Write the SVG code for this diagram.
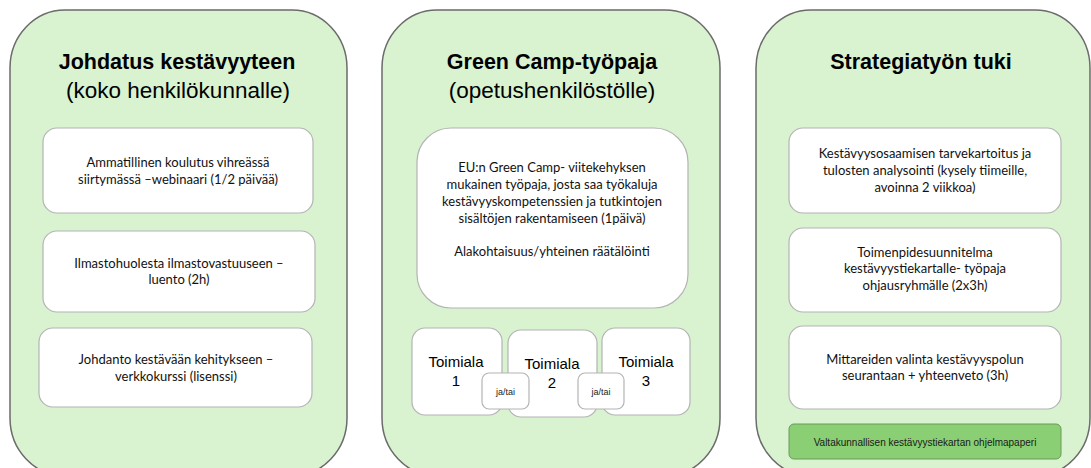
<svg xmlns="http://www.w3.org/2000/svg" width="1091" height="468" viewBox="0 0 1091 468">
<style>
.panel{fill:#d9f2d0;stroke:#6b6b6b;stroke-width:1.5}
.box{fill:#ffffff;stroke:#b4b4b4;stroke-width:1.2}
.bar{fill:#8acf73;stroke:#6a9a5a;stroke-width:1}
.t{font-family:Lato,"Liberation Sans",sans-serif;font-size:13px;fill:#111;text-anchor:middle}
.h{font-family:"Liberation Sans",Arial,sans-serif;font-size:21.5px;font-weight:bold;fill:#000;text-anchor:middle}
.s{font-family:"Liberation Sans",Arial,sans-serif;font-size:22.5px;fill:#000;text-anchor:middle}
.tm{font-family:"Liberation Sans",Arial,sans-serif;font-size:15px;fill:#000;text-anchor:middle}
.j{font-family:"Liberation Sans",Arial,sans-serif;font-size:9px;fill:#222;text-anchor:middle}
.b{font-family:"Liberation Sans",Arial,sans-serif;font-size:10px;fill:#1a1a1a;text-anchor:middle}
</style>
<rect width="1091" height="468" fill="#ffffff"/>

<g id="panel1">
<rect class="panel" x="10" y="10" width="337" height="466" rx="55" ry="58"/>
<text class="h" x="177" y="69">Johdatus kestävyyteen</text>
<text class="s" x="178" y="98">(koko henkilökunnalle)</text>
</g>
<g id="p1-box1">
<rect class="box" x="43" y="128" width="270" height="85" rx="14"/>
<text class="t" x="178" y="167">Ammatillinen koulutus vihreässä</text>
<text class="t" x="178" y="184">siirtymässä –webinaari (1/2 päivää)</text>
</g>
<g id="p1-box2">
<rect class="box" x="43" y="231" width="272" height="81" rx="14"/>
<text class="t" x="179" y="268">Ilmastohuolesta ilmastovastuuseen –</text>
<text class="t" x="179" y="284">luento (2h)</text>
</g>
<g id="p1-box3">
<rect class="box" x="39" y="328" width="273" height="79" rx="14"/>
<text class="t" x="176" y="364">Johdanto kestävään kehitykseen –</text>
<text class="t" x="176" y="381">verkkokurssi (lisenssi)</text>
</g>

<g id="panel2">
<rect class="panel" x="382" y="10" width="338" height="466" rx="55" ry="58"/>
<text class="h" x="552" y="69">Green Camp-työpaja</text>
<text class="s" x="552" y="98">(opetushenkilöstölle)</text>
</g>
<g id="p2-main">
<rect class="box" x="417" y="128" width="271" height="180" rx="34"/>
<text class="t" x="552" y="172">EU:n Green Camp- viitekehyksen</text>
<text class="t" x="552" y="189">mukainen työpaja, josta saa työkaluja</text>
<text class="t" x="552" y="206">kestävyyskompetenssien ja tutkintojen</text>
<text class="t" x="552" y="223">sisältöjen rakentamiseen (1päivä)</text>
<text class="t" x="552" y="256">Alakohtaisuus/yhteinen räätälöinti</text>
</g>
<g id="toimiala1">
<rect class="box" x="412" y="328" width="90" height="87" rx="13"/>
<text class="tm" x="456" y="367">Toimiala</text>
<text class="tm" x="456" y="386">1</text>
</g>
<g id="toimiala2">
<rect class="box" x="508" y="330" width="89" height="87" rx="13"/>
<text class="tm" x="552" y="369">Toimiala</text>
<text class="tm" x="552" y="388">2</text>
</g>
<g id="toimiala3">
<rect class="box" x="602" y="328" width="88" height="87" rx="13"/>
<text class="tm" x="646" y="367">Toimiala</text>
<text class="tm" x="646" y="386">3</text>
</g>
<g id="jatai1">
<rect class="box" x="482" y="373" width="47" height="36" rx="7" stroke="#999"/>
<text class="j" x="505.5" y="395">ja/tai</text>
</g>
<g id="jatai2">
<rect class="box" x="578" y="373" width="46" height="36" rx="7" stroke="#999"/>
<text class="j" x="601" y="395">ja/tai</text>
</g>

<g id="panel3">
<rect class="panel" x="756" y="10" width="334" height="466" rx="55" ry="58"/>
<text class="h" x="921" y="69">Strategiatyön tuki</text>
</g>
<g id="p3-box1">
<rect class="box" x="789" y="128" width="272" height="85" rx="14"/>
<text class="t" x="925" y="158">Kestävyysosaamisen tarvekartoitus ja</text>
<text class="t" x="925" y="175">tulosten analysointi (kysely tiimeille,</text>
<text class="t" x="925" y="192">avoinna 2 viikkoa)</text>
</g>
<g id="p3-box2">
<rect class="box" x="789" y="228" width="272" height="84" rx="14"/>
<text class="t" x="925" y="257">Toimenpidesuunnitelma</text>
<text class="t" x="925" y="273">kestävyystiekartalle- työpaja</text>
<text class="t" x="925" y="290">ohjausryhmälle (2x3h)</text>
</g>
<g id="p3-box3">
<rect class="box" x="789" y="326" width="272" height="83" rx="14"/>
<text class="t" x="925" y="364">Mittareiden valinta kestävyyspolun</text>
<text class="t" x="925" y="380">seurantaan + yhteenveto (3h)</text>
</g>
<g id="p3-bar">
<rect class="bar" x="789" y="424" width="272" height="35" rx="5"/>
<text class="b" x="925" y="446">Valtakunnallisen kestävyystiekartan ohjelmapaperi</text>
</g>
</svg>
